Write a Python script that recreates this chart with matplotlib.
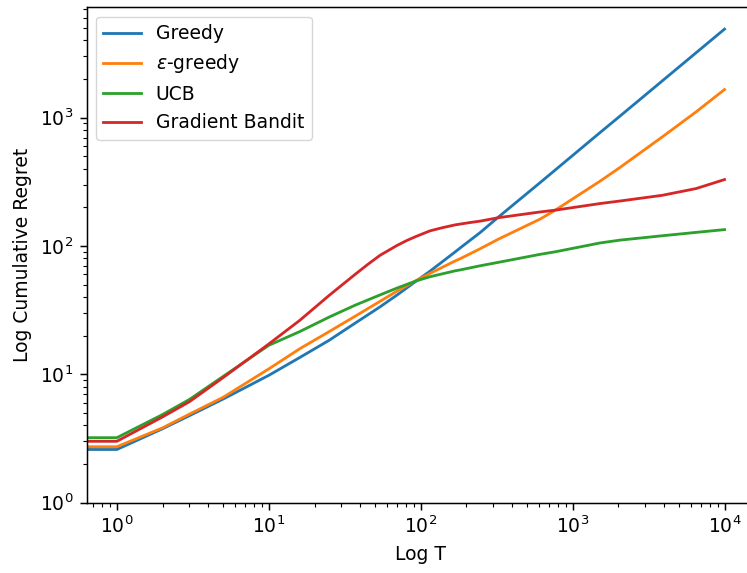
import matplotlib
matplotlib.use("Agg")
import matplotlib.pyplot as plt

# ---- data ----
T = [0, 1, 2, 3, 5, 10, 16, 25, 37, 54, 70, 94, 115, 169, 182, 246, 325, 612,
     769, 1518, 2057, 3890, 6500, 10000]
greedy = [2.59, 2.59, 3.76, 4.75, 6.4, 9.8, 13.5, 18.4, 25.0, 33.5, 41.5, 53.5,
          63.5, 90, 96.5, 127, 168, 312, 391, 766, 1031, 1932, 3205, 4898]
eps_greedy = [2.72, 2.72, 3.82, 4.88, 6.6, 11.0, 15.8, 21.5, 28.3, 37, 44.5, 54,
              61, 76.5, 79.5, 95, 113, 162, 190, 320, 410, 707, 1109, 1656]
ucb = [3.2, 3.2, 4.85, 6.35, 9.6, 16.8, 21.5, 27.9, 34.5, 41.5, 47, 53.5,
       57.5, 64, 65, 70, 74.5, 86, 90, 105.5, 111, 120, 127.5, 134]

T_gradient = [0, 1, 2, 3, 5, 10, 16, 25, 37, 45, 54, 70, 82, 94, 115, 140,
              169, 210, 246, 325, 612, 769, 1518, 2057, 3890, 6500, 10000]
gradient = [3.0, 3.0, 4.65, 6.1, 9.4, 17.2, 26.3, 41.2, 60, 72, 84.5, 101,
            111, 119, 131, 139, 146, 152, 156, 166, 184, 190, 214, 224, 248,
            280, 329]

labels = ["Greedy", r"$\epsilon$-greedy", "UCB", "Gradient Bandit"]
xs = [T, T, T, T_gradient]
series = [greedy, eps_greedy, ucb, gradient]

s = 1.347
plt.rcParams.update({
    "font.size": 10 * s,
    "lines.linewidth": 1.5 * s,
    "axes.linewidth": 0.8 * s,
    "xtick.major.size": 3.5 * s, "ytick.major.size": 3.5 * s,
    "xtick.minor.size": 2.0 * s, "ytick.minor.size": 2.0 * s,
    "xtick.major.width": 0.8 * s, "ytick.major.width": 0.8 * s,
    "xtick.minor.width": 0.6 * s, "ytick.minor.width": 0.6 * s,
    "xtick.major.pad": 3.5 * s, "ytick.major.pad": 3.5 * s,
    "axes.labelpad": 4.0 * s,
})

fig = plt.figure(figsize=(7.47, 5.73), dpi=100)
ax = fig.add_axes([86.5 / 747, 70.5 / 573, 668.4 / 747, 495.2 / 573])

for x, y, lab in zip(xs, series, labels):
    ax.plot(x, y, label=lab)

ax.set_xscale("log")
ax.set_yscale("log")
ax.set_ylim(1, 10 ** 3.86)
ax.spines["right"].set_visible(False)
ax.set_xlabel("Log T")
ax.set_ylabel("Log Cumulative Regret")
ax.legend(loc="upper left")

fig.savefig("out.png", dpi=100)
